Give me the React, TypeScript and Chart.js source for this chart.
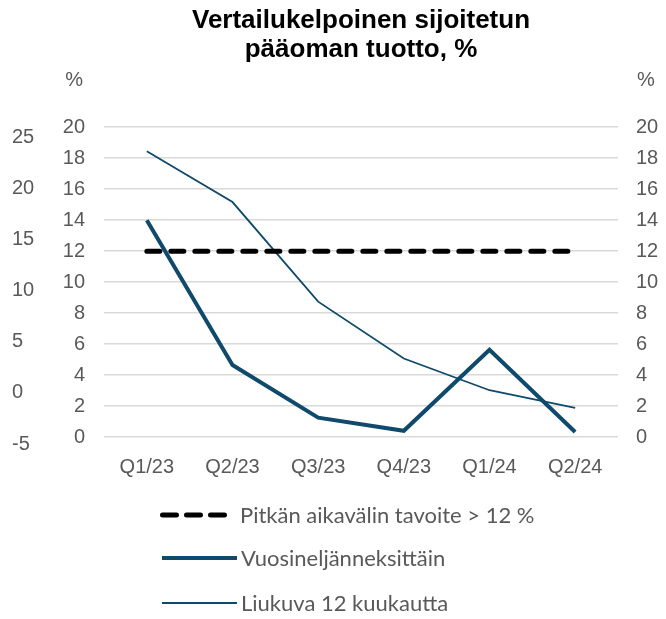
import React, { useEffect, useRef } from "react";
import { Chart, registerables } from "chart.js";

Chart.register(...registerables);

const categories = ["Q1/23", "Q2/23", "Q3/23", "Q4/23", "Q1/24", "Q2/24"];
const targetValues = [12, 12, 12, 12, 12, 12];
const quarterlyValues = [14.0, 4.65, 1.25, 0.4, 5.63, 0.32];
const rollingValues = [18.45, 15.17, 8.74, 5.07, 3.02, 1.88];
const outerTicks = [-5, 0, 5, 10, 15, 20, 25];
const titleLines = ["Vertailukelpoinen sijoitetun", "pääoman tuotto, %"];
const seriesNames = [
  "Pitkän aikavälin tavoite > 12 %",
  "Vuosineljänneksittäin",
  "Liukuva 12 kuukautta",
];

const BLUE = "#0f4a6d";
const GREY = "#595959";
const FONT = "'Liberation Sans', Arial, sans-serif";

const percentPlugin = {
  id: "percentLabels",
  afterDraw(chart: any) {
    const ctx = chart.ctx;
    const yl = chart.scales.y;
    const yr = chart.scales.y2;
    ctx.save();
    ctx.fillStyle = GREY;
    ctx.font = `20px ${FONT}`;
    ctx.textBaseline = "middle";
    ctx.textAlign = "right";
    ctx.fillText("%", yl.right - 21, 80);
    ctx.textAlign = "left";
    ctx.fillText("%", yr.left + 19, 80);
    ctx.restore();
  },
};

export default function App() {
  const ref = useRef<HTMLCanvasElement>(null);

  useEffect(() => {
    if (!ref.current) return;
    const chart = new Chart(ref.current, {
      type: "line",
      data: {
        labels: categories,
        datasets: [
          {
            label: seriesNames[0],
            data: targetValues,
            borderColor: "#000000",
            borderWidth: 5,
            borderDash: [13, 11],
            borderCapStyle: "round",
            pointRadius: 0,
            yAxisID: "y",
          },
          {
            label: seriesNames[1],
            data: quarterlyValues,
            borderColor: BLUE,
            borderWidth: 4,
            pointRadius: 0,
            yAxisID: "y",
          },
          {
            label: seriesNames[2],
            data: rollingValues,
            borderColor: BLUE,
            borderWidth: 1.8,
            pointRadius: 0,
            yAxisID: "y",
          },
        ],
      },
      options: {
        animation: false,
        responsive: false,
        maintainAspectRatio: false,
        layout: { padding: { left: 12, right: 0, top: 0, bottom: 122 } },
        plugins: {
          legend: { display: false },
          tooltip: { enabled: false },
          title: {
            display: true,
            text: titleLines,
            fullSize: false,
            color: "#000000",
            font: { family: FONT, size: 26, weight: "bold", lineHeight: 1.12 },
            padding: { top: 6, bottom: 63 },
          },
        },
        scales: {
          x: {
            type: "category",
            offset: true,
            grid: { display: false, drawTicks: false },
            border: { display: false },
            ticks: {
              color: GREY,
              font: { family: FONT, size: 20 },
              padding: 18,
              maxRotation: 0,
              autoSkip: false,
            },
          },
          y: {
            position: "left",
            min: 0,
            max: 20,
            weight: 0,
            grid: { color: "#d9d9d9", lineWidth: 1.5, drawTicks: false },
            border: { display: false },
            ticks: {
              stepSize: 2,
              color: GREY,
              font: { family: FONT, size: 20 },
              padding: 19,
              autoSkip: false,
            },
            afterFit: (s: any) => {
              s.width = 50;
            },
          },
          y3: {
            position: "left",
            min: -4.314,
            max: 25.98,
            weight: 1,
            grid: { display: false, drawTicks: false },
            border: { display: false },
            afterBuildTicks: (s: any) => {
              s.ticks = outerTicks.map((v) => ({ value: v }));
            },
            ticks: {
              color: GREY,
              font: { family: FONT, size: 20 },
              crossAlign: "far",
              padding: 0,
              autoSkip: false,
              callback: (v: any) => String(v),
            },
            afterFit: (s: any) => {
              s.width = 42;
            },
          },
          y2: {
            position: "right",
            min: 0,
            max: 20,
            grid: { display: false, drawTicks: false },
            border: { display: false },
            ticks: {
              stepSize: 2,
              color: GREY,
              font: { family: FONT, size: 20 },
              padding: 18,
              autoSkip: false,
            },
            afterFit: (s: any) => {
              s.width = 48;
            },
          },
        },
      } as any,
      plugins: [percentPlugin],
    });
    return () => chart.destroy();
  }, []);

  const legendText: React.CSSProperties = {
    position: "absolute",
    left: 240,
    color: GREY,
    font: `22px Lato, ${FONT}`,
    lineHeight: "24px",
    whiteSpace: "nowrap",
  };

  return (
    <div style={{ position: "absolute", left: 0, top: 0, width: 666, height: 619, background: "#fff" }}>
      <canvas ref={ref} width={666} height={619} style={{ position: "absolute", left: 0, top: 0 }} />
      <svg width={666} height={619} style={{ position: "absolute", left: 0, top: 0, pointerEvents: "none" }}>
        <line x1={162.5} y1={515} x2={225} y2={515} stroke="#000" strokeWidth={5} strokeDasharray="14 10" strokeLinecap="round" />
        <line x1={162} y1={558} x2={237} y2={558} stroke={BLUE} strokeWidth={4} />
        <line x1={162} y1={603} x2={237} y2={603} stroke={BLUE} strokeWidth={1.8} />
      </svg>
      <div style={{ ...legendText, top: 503 }}>{seriesNames[0]}</div>
      <div style={{ ...legendText, top: 546, left: 241 }}>{seriesNames[1]}</div>
      <div style={{ ...legendText, top: 591, left: 241 }}>{seriesNames[2]}</div>
    </div>
  );
}
